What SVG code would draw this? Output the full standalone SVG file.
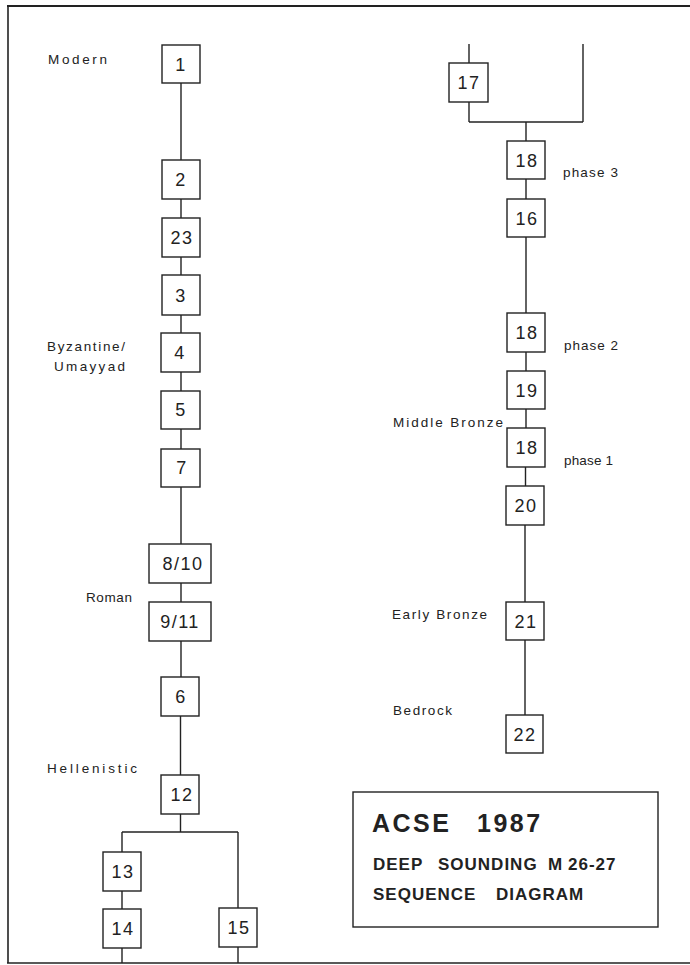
<svg xmlns="http://www.w3.org/2000/svg" width="690" height="965" viewBox="0 0 690 965">
<style>
.bx{fill:#fff;stroke:#222;stroke-width:1.4}
.num{font-family:"Liberation Sans",Arial,sans-serif;font-size:18px;fill:#222;text-anchor:middle;letter-spacing:1.5px}
.lbl{font-family:"Liberation Sans",Arial,sans-serif;font-size:13.5px;fill:#222}
.ln{stroke:#222;stroke-width:1.4;fill:none}
.t1{font-family:"Liberation Sans",Arial,sans-serif;font-weight:bold;font-size:25px;fill:#222;letter-spacing:2.5px}
.t2{font-family:"Liberation Sans",Arial,sans-serif;font-weight:bold;font-size:17px;fill:#222;letter-spacing:1px}
</style>
<rect width="690" height="965" fill="#fff"/>
<g id="frame">
<line x1="7" y1="6" x2="690" y2="6" stroke="#222" stroke-width="2"/>
<line x1="8" y1="5" x2="8" y2="963" stroke="#222" stroke-width="1.6"/>
<line x1="7" y1="963" x2="690" y2="963" stroke="#222" stroke-width="1.6"/>
</g>
<g id="connectors" class="ln">
<line x1="181" y1="83" x2="181" y2="160"/>
<line x1="181" y1="199" x2="181" y2="218"/>
<line x1="181" y1="257" x2="181" y2="275"/>
<line x1="181" y1="315" x2="181" y2="333"/>
<line x1="181" y1="372" x2="181" y2="391"/>
<line x1="181" y1="429" x2="181" y2="449"/>
<line x1="181" y1="487" x2="181" y2="544"/>
<line x1="181" y1="583" x2="181" y2="602"/>
<line x1="181" y1="641" x2="181" y2="677"/>
<line x1="180.5" y1="716" x2="180.5" y2="775"/>
<line x1="180.5" y1="814" x2="180.5" y2="832"/>
<line x1="122" y1="832" x2="238" y2="832"/>
<line x1="122" y1="832" x2="122" y2="852"/>
<line x1="122" y1="891" x2="122" y2="909"/>
<line x1="122" y1="948" x2="122" y2="963"/>
<line x1="238" y1="832" x2="238" y2="908"/>
<line x1="238" y1="947" x2="238" y2="963"/>
<line x1="469" y1="44" x2="469" y2="63"/>
<line x1="469" y1="102" x2="469" y2="122"/>
<line x1="469" y1="122" x2="583" y2="122"/>
<line x1="583" y1="44" x2="583" y2="122"/>
<line x1="526" y1="122" x2="526" y2="141"/>
<line x1="526" y1="179" x2="526" y2="199"/>
<line x1="526" y1="237" x2="526" y2="313"/>
<line x1="526" y1="352" x2="526" y2="371"/>
<line x1="526" y1="409" x2="526" y2="428"/>
<line x1="525.5" y1="467" x2="525.5" y2="486"/>
<line x1="525" y1="525" x2="525" y2="602"/>
<line x1="525" y1="640" x2="525" y2="715"/>
</g>
<g id="n1"><rect class="bx" x="162" y="45" width="38" height="38"/><text class="num" x="181" y="71">1</text></g>
<g id="n2"><rect class="bx" x="162" y="160" width="38" height="39"/><text class="num" x="181" y="186">2</text></g>
<g id="n23"><rect class="bx" x="162" y="218" width="38" height="39"/><text class="num" x="182" y="244">23</text></g>
<g id="n3"><rect class="bx" x="162" y="275" width="38" height="40"/><text class="num" x="181" y="302">3</text></g>
<g id="n4"><rect class="bx" x="161" y="333" width="39" height="39"/><text class="num" x="180" y="359">4</text></g>
<g id="n5"><rect class="bx" x="161" y="391" width="39" height="38"/><text class="num" x="181" y="416">5</text></g>
<g id="n7"><rect class="bx" x="161" y="449" width="39" height="38"/><text class="num" x="182" y="474">7</text></g>
<g id="n8_10"><rect class="bx" x="149" y="544" width="62" height="39"/><text class="num" x="183" y="570">8/10</text></g>
<g id="n9_11"><rect class="bx" x="149" y="602" width="62" height="39"/><text class="num" x="180" y="628">9/11</text></g>
<g id="n6"><rect class="bx" x="161" y="677" width="38" height="39"/><text class="num" x="181" y="703">6</text></g>
<g id="n12"><rect class="bx" x="161" y="775" width="38" height="39"/><text class="num" x="182" y="801">12</text></g>
<g id="n13"><rect class="bx" x="103" y="852" width="38" height="39"/><text class="num" x="123" y="878">13</text></g>
<g id="n14"><rect class="bx" x="103" y="909" width="38" height="39"/><text class="num" x="123" y="935">14</text></g>
<g id="n15"><rect class="bx" x="219" y="908" width="38" height="39"/><text class="num" x="239" y="934">15</text></g>
<g id="n17"><rect class="bx" x="449" y="63" width="39" height="39"/><text class="num" x="469" y="89">17</text></g>
<g id="n18c"><rect class="bx" x="507" y="141" width="38" height="38"/><text class="num" x="527" y="167">18</text></g>
<g id="n16"><rect class="bx" x="507" y="199" width="38" height="38"/><text class="num" x="527" y="225">16</text></g>
<g id="n18b"><rect class="bx" x="507" y="313" width="38" height="39"/><text class="num" x="527" y="339">18</text></g>
<g id="n19"><rect class="bx" x="507" y="371" width="38" height="38"/><text class="num" x="527" y="397">19</text></g>
<g id="n18a"><rect class="bx" x="507" y="428" width="38" height="39"/><text class="num" x="527" y="454">18</text></g>
<g id="n20"><rect class="bx" x="506" y="486" width="38" height="39"/><text class="num" x="526" y="512">20</text></g>
<g id="n21"><rect class="bx" x="506" y="602" width="38" height="38"/><text class="num" x="526" y="628">21</text></g>
<g id="n22"><rect class="bx" x="506" y="715" width="37" height="38"/><text class="num" x="525" y="741">22</text></g>
<g id="labels">
<text class="lbl" x="48" y="64" textLength="59" lengthAdjust="spacing">Modern</text>
<text class="lbl" x="47" y="351" textLength="78" lengthAdjust="spacing">Byzantine/</text>
<text class="lbl" x="54" y="371" textLength="71" lengthAdjust="spacing">Umayyad</text>
<text class="lbl" x="86" y="602" textLength="46" lengthAdjust="spacing">Roman</text>
<text class="lbl" x="47" y="773" textLength="90" lengthAdjust="spacing">Hellenistic</text>
<text class="lbl" x="563" y="177" textLength="55" lengthAdjust="spacing">phase 3</text>
<text class="lbl" x="564" y="350" textLength="54" lengthAdjust="spacing">phase 2</text>
<text class="lbl" x="393" y="427" textLength="110" lengthAdjust="spacing">Middle Bronze</text>
<text class="lbl" x="564" y="465" textLength="49" lengthAdjust="spacing">phase 1</text>
<text class="lbl" x="392" y="619" textLength="95" lengthAdjust="spacing">Early Bronze</text>
<text class="lbl" x="393" y="715" textLength="59" lengthAdjust="spacing">Bedrock</text>
</g>
<g id="title">
<rect x="353" y="792" width="305" height="135" fill="#fff" stroke="#222" stroke-width="1.4"/>
<text class="t1" y="832"><tspan x="372">ACSE</tspan><tspan x="477">1987</tspan></text>
<text class="t2" y="870"><tspan x="373">DEEP</tspan><tspan x="438">SOUNDING</tspan><tspan x="548">M</tspan><tspan x="568">26-27</tspan></text>
<text class="t2" y="900"><tspan x="373">SEQUENCE</tspan><tspan x="496">DIAGRAM</tspan></text>
</g>
</svg>
